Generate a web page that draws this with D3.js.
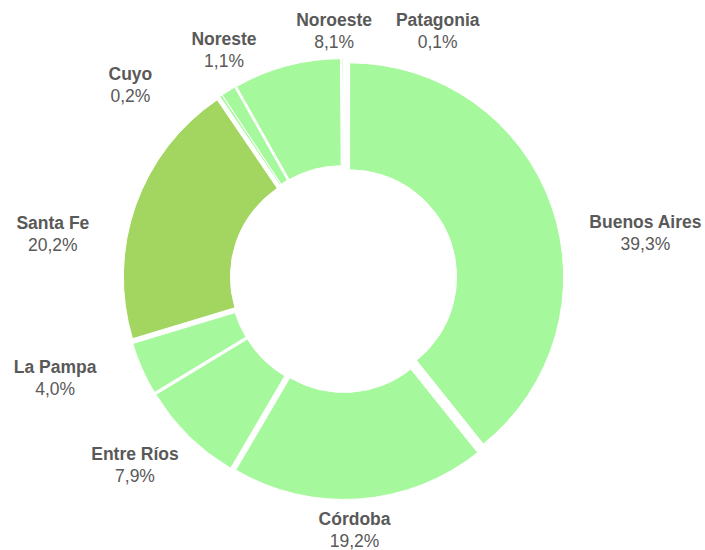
<!DOCTYPE html>
<html>
<head>
<meta charset="utf-8">
<script src="https://cdn.jsdelivr.net/npm/d3@7"></script>
<style>
  body { margin: 0; background: #fff; }
  text { font-family: "Liberation Sans", Arial, sans-serif; fill: #595959; }
</style>
</head>
<body>
<svg width="705" height="550"></svg>
<script>
const regions = ["Buenos Aires", "Córdoba", "Entre Ríos", "La Pampa", "Santa Fe", "Cuyo", "Noreste", "Noroeste", "Patagonia"];
const shares = [39.3, 19.2, 7.9, 4.0, 20.2, 0.2, 1.1, 8.1, 0.1];
const shareLabels = ["39,3%", "19,2%", "7,9%", "4,0%", "20,2%", "0,2%", "1,1%", "8,1%", "0,1%"];
const highlighted = ["Santa Fe"];

// label nudges (best-fit placement like the original)
const labelShift = {
  "Buenos Aires": [66, 36],
  "Córdoba": [-7, 1],
  "Entre Ríos": [-33, 7],
  "La Pampa": [-60, -3],
  "Santa Fe": [-55, 38],
  "Cuyo": [-74, 13],
  "Noreste": [11, -16],
  "Noroeste": [55, -7],
  "Patagonia": [95, 1]
};

const width = 705, height = 550;
const cx = 343.5, cy = 279;
const outerR = 214, innerR = 107, explode = 6.5, labelR = 250;

const svg = d3.select("svg").attr("viewBox", [0, 0, width, height]);
const g = svg.append("g").attr("transform", `translate(${cx},${cy})`);

const data = regions.map((r, i) => ({ region: r, value: shares[i], label: shareLabels[i] }));

const pie = d3.pie().sort(null).value(d => d.value);
const arcs = pie(data);

const arc = d3.arc().innerRadius(innerR).outerRadius(outerR);
const labelArc = d3.arc().innerRadius(labelR).outerRadius(labelR);

const color = d => highlighted.includes(d.data.region) ? "#a2d661" : "#a5f99c";

g.selectAll("path.slice")
  .data(arcs)
  .join("path")
  .attr("class", "slice")
  .attr("d", arc)
  .attr("fill", color)
  .attr("stroke", "#fff")
  .attr("stroke-width", 1)
  .attr("transform", d => {
    const a = (d.startAngle + d.endAngle) / 2;
    return `translate(${explode * Math.sin(a)},${-explode * Math.cos(a)})`;
  });

const labels = g.selectAll("g.lbl")
  .data(arcs)
  .join("g")
  .attr("class", "lbl")
  .attr("transform", d => {
    const [x, y] = labelArc.centroid(d);
    const s = labelShift[d.data.region] || [0, 0];
    return `translate(${x + s[0]},${y + s[1]})`;
  });

labels.append("text")
  .attr("text-anchor", "middle")
  .attr("y", -4.5)
  .style("font-size", "17.5px")
  .style("font-weight", "bold")
  .text(d => d.data.region);

labels.append("text")
  .attr("text-anchor", "middle")
  .attr("y", 17.5)
  .style("font-size", "17.5px")
  .text(d => d.data.label);
</script>
</body>
</html>
